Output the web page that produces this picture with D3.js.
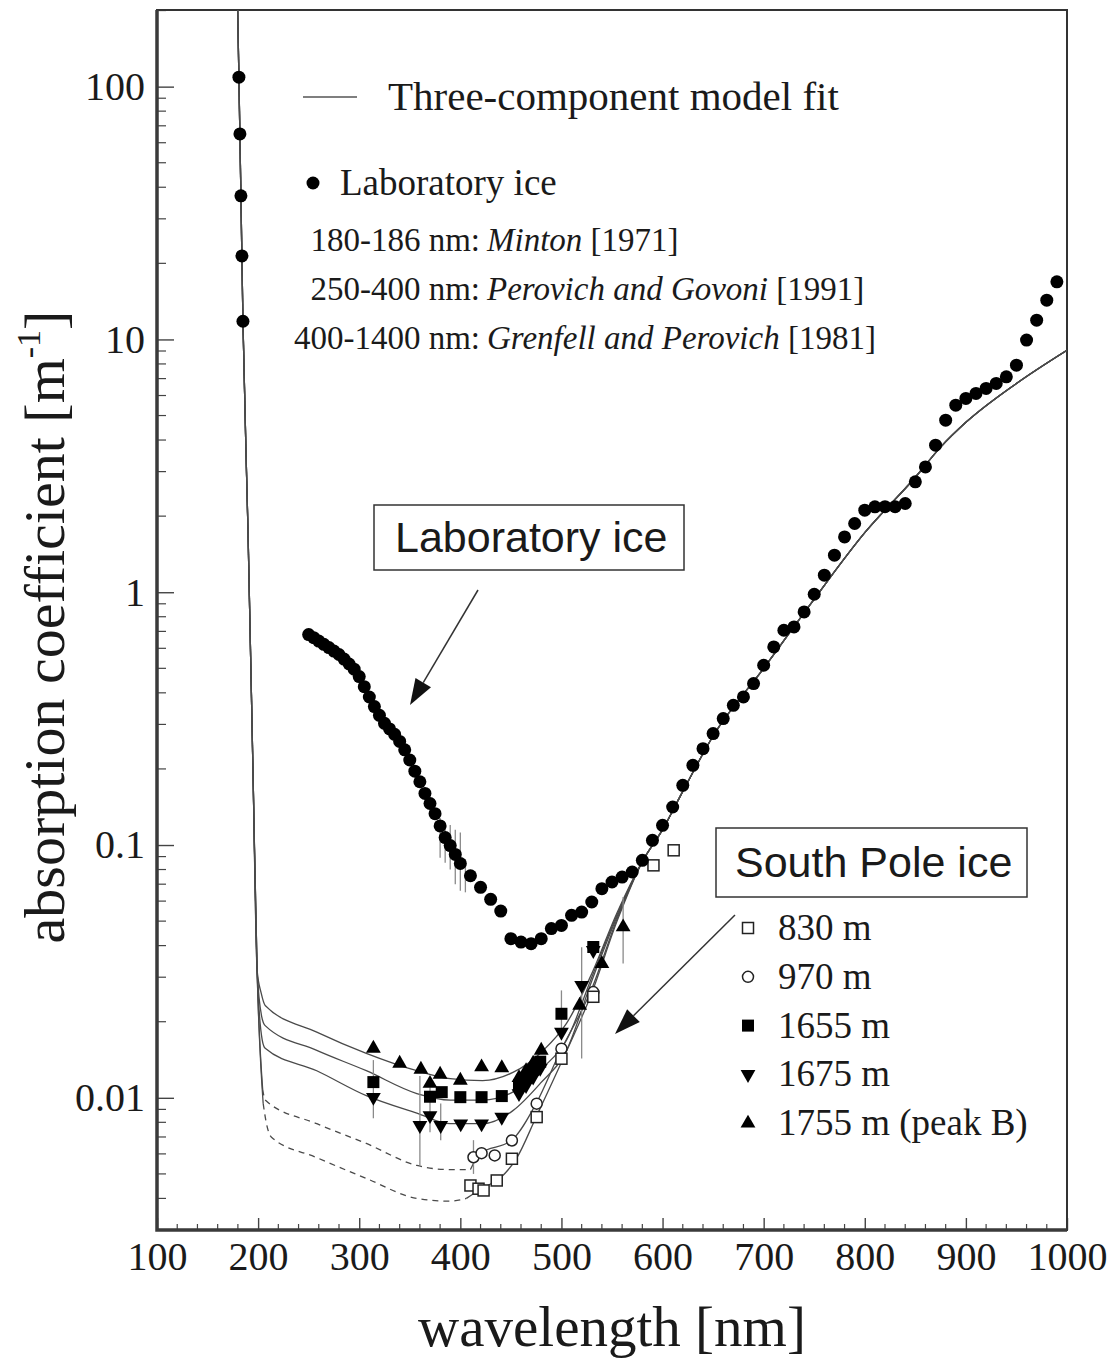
<!DOCTYPE html>
<html>
<head>
<meta charset="utf-8">
<script src="https://cdn.jsdelivr.net/npm/d3@7"></script>
<style>
  body { margin: 0; background: #fff; }
  svg text { font-family: "Liberation Serif", "Times New Roman", serif; fill: #1a1a1a; }
  svg text.sans { font-family: "Liberation Sans", Arial, sans-serif; }
</style>
</head>
<body>
<script>
// ---- data (wavelength nm, absorption m^-1) ----
const labIce = [
  [181, 109], [182, 65], [183, 37], [184, 21.4], [185, 11.8],
  [250, 0.680], [255, 0.661], [260, 0.641], [265, 0.622], [270, 0.604], [275, 0.585],
  [280, 0.567], [285, 0.544], [290, 0.520], [295, 0.496], [300, 0.464], [305, 0.423],
  [310, 0.385], [315, 0.353], [320, 0.326], [325, 0.303], [330, 0.288], [335, 0.274],
  [340, 0.257], [345, 0.238], [350, 0.217], [355, 0.196], [360, 0.178], [365, 0.160],
  [370, 0.146], [375, 0.133], [380, 0.119], [385, 0.107], [390, 0.0995], [395, 0.0918],
  [400, 0.0845], [410, 0.0756], [420, 0.068], [430, 0.061], [440, 0.0548], [450, 0.0426],
  [460, 0.0413], [470, 0.0407], [480, 0.0426], [490, 0.0467], [500, 0.0481], [510, 0.0527],
  [520, 0.0543], [530, 0.0595], [540, 0.0672], [550, 0.0714], [560, 0.0747], [570, 0.0782],
  [580, 0.087], [590, 0.1044], [600, 0.1197], [610, 0.1414], [620, 0.1722], [630, 0.2067],
  [640, 0.2406], [650, 0.2759], [660, 0.3164], [670, 0.3571], [680, 0.3852], [690, 0.4352],
  [700, 0.5142], [710, 0.6074], [720, 0.7073], [730, 0.7292], [740, 0.8357], [750, 0.982],
  [760, 1.168], [770, 1.401], [780, 1.655], [790, 1.87], [800, 2.111], [810, 2.176],
  [820, 2.18], [830, 2.18], [840, 2.244], [850, 2.733], [860, 3.132], [870, 3.817],
  [880, 4.793], [890, 5.495], [900, 5.842], [910, 6.114], [920, 6.4], [930, 6.698],
  [940, 7.112], [950, 7.912], [960, 9.94], [970, 11.92], [980, 14.3], [990, 16.9]
];
// [wavelength, low, high]
const labErr = [[380, 0.089, 0.128], [385, 0.085, 0.122], [390, 0.080, 0.120],
  [395, 0.070, 0.115], [400, 0.066, 0.112], [405, 0.065, 0.088]];

const sp830 = [[410, 0.0045], [418, 0.00437], [423, 0.0043], [436, 0.00471], [451, 0.00574],
  [475.5, 0.00839], [500, 0.01428], [531.5, 0.0251], [591, 0.0831], [611, 0.0953]];
const sp970 = [[413, 0.00582], [421, 0.00604], [434, 0.00592], [451, 0.00678], [475.5, 0.00948],
  [500, 0.01564], [531.5, 0.0262]];
const sp1655 = [[314, 0.01154], [370, 0.0101], [381.6, 0.01053], [400, 0.01006], [421, 0.01006],
  [441, 0.01016], [458, 0.0112], [465, 0.0120], [472, 0.0129], [479, 0.0139], [500, 0.0215],
  [531.5, 0.0395]];
const sp1675 = [[314, 0.01006], [360, 0.00778], [370, 0.00852], [380.6, 0.00778], [400.4, 0.0079],
  [421, 0.0079], [441, 0.00839], [458, 0.0104], [465, 0.0112], [472, 0.0121], [479, 0.0131],
  [500, 0.0182], [520, 0.0279], [531.5, 0.0383]];
const sp1755 = [[314, 0.01569], [340, 0.01368], [361, 0.01296], [370, 0.0114], [380, 0.01238],
  [400, 0.01172], [421, 0.01323], [441, 0.01313], [458, 0.0120], [465, 0.0128], [472, 0.0137],
  [480, 0.0154], [518, 0.0232], [540, 0.0339], [561, 0.0474]];
const spErr = [[314, 0.0083, 0.0141], [360, 0.0054, 0.0122], [370, 0.0073, 0.0110],
  [380.6, 0.0068, 0.0095], [413, 0.0050, 0.0068], [500, 0.0180, 0.0266],
  [520, 0.0143, 0.0394], [561, 0.034, 0.0623]];

// three-component model fit
const fitUV = [[179, 300], [181, 109], [183, 37], [185, 11.8], [190, 1.75], [195, 0.19], [199, 0.032]];
const fit1755 = [[203, 0.026], [207, 0.0232], [258, 0.0182], [307, 0.0150], [357, 0.0128], [390, 0.0119],
  [422, 0.0117], [452, 0.0126], [482, 0.0154], [505, 0.0197], [530, 0.031], [555, 0.054]];
const fit1655 = [[203.5, 0.021], [207, 0.0193], [258, 0.0154], [307, 0.0128], [357, 0.0104], [390, 0.0098],
  [422, 0.0098], [455, 0.0107], [482, 0.0132], [505, 0.0169], [530, 0.030], [555, 0.053]];
const fit1675 = [[204, 0.017], [207, 0.0157], [258, 0.0128], [307, 0.0102], [357, 0.0087], [390, 0.0079],
  [422, 0.0079], [452, 0.0089], [479, 0.0114], [505, 0.0154], [530, 0.029], [555, 0.052]];
const fit970Extrap = [[204.5, 0.0108], [207, 0.0098], [258, 0.0079], [307, 0.0066], [357, 0.0054],
  [390, 0.0052], [410, 0.0052]];
const fit970 = [[419, 0.0060], [451, 0.0068], [475, 0.0095], [498, 0.0150], [530, 0.027], [555, 0.051]];
const fit830Extrap = [[205, 0.0095], [208, 0.0080], [213, 0.0070], [258, 0.0058], [307, 0.0048],
  [357, 0.0040], [390, 0.0039], [406, 0.0040]];
const fit830 = [[422, 0.0044], [439, 0.0048], [456, 0.0058], [475, 0.0084], [501, 0.0141], [530, 0.026], [555, 0.050]];
const fitTail = [[580, 0.086], [600, 0.115], [620, 0.163], [650, 0.270], [700, 0.50], [750, 0.94],
  [800, 1.72], [850, 2.85], [875, 3.75], [900, 4.7], [950, 6.7], [1000, 9.07]];

const xTicks = [100, 200, 300, 400, 500, 600, 700, 800, 900, 1000];
const yTicks = [0.01, 0.1, 1, 10, 100];
const yTickLabels = ["0.01", "0.1", "1", "10", "100"];
const spLegend = [
  {label: "830 m", sym: "openSquare"},
  {label: "970 m", sym: "openCircle"},
  {label: "1655 m", sym: "square"},
  {label: "1675 m", sym: "down"},
  {label: "1755 m (peak B)", sym: "up"}
];

// ---- layout ----
const W = 1114, H = 1364;
const margin = {top: 10, right: 47, bottom: 134, left: 157};

const svg = d3.select("body").append("svg")
  .attr("width", W).attr("height", H);

const x = d3.scaleLinear().domain([100, 1000]).range([margin.left, W - margin.right]);
const y = d3.scaleLog().domain([0.003, 201]).range([H - margin.bottom, margin.top]);

svg.append("clipPath").attr("id", "plot")
  .append("rect")
  .attr("x", margin.left).attr("y", margin.top)
  .attr("width", W - margin.left - margin.right)
  .attr("height", H - margin.top - margin.bottom);

// minor ticks
const xMinor = d3.range(120, 1000, 20).filter(d => d % 100 !== 0);
svg.append("g").selectAll("line").data(xMinor).enter().append("line")
  .attr("x1", d => x(d)).attr("x2", d => x(d))
  .attr("y1", y.range()[0]).attr("y2", y.range()[0] - 6)
  .attr("stroke", "#444").attr("stroke-width", 1.2);

const yMinor = [];
[0.001, 0.01, 0.1, 1, 10, 100].forEach(p => d3.range(2, 10).forEach(k => {
  const v = p * k;
  if (v > 0.003 && v < 201) yMinor.push(v);
}));
svg.append("g").selectAll("line").data(yMinor).enter().append("line")
  .attr("x1", margin.left).attr("x2", margin.left + 9)
  .attr("y1", d => y(d)).attr("y2", d => y(d))
  .attr("stroke", "#444").attr("stroke-width", 1.2);

// axes with inward ticks
const xAxis = svg.append("g")
  .attr("transform", "translate(0," + y.range()[0] + ")")
  .call(d3.axisBottom(x).tickValues(xTicks).tickSizeInner(-12).tickSizeOuter(0).tickPadding(12)
    .tickFormat(d3.format("d")));
xAxis.selectAll("text").attr("font-size", 40).attr("fill", "#1a1a1a")
  .style("font-family", "'Liberation Serif', serif");

const yAxis = svg.append("g")
  .attr("transform", "translate(" + margin.left + ",0)")
  .call(d3.axisLeft(y).tickValues(yTicks).tickSizeInner(-17).tickSizeOuter(0).tickPadding(12)
    .tickFormat((d, i) => yTickLabels[i]));
yAxis.selectAll("text").attr("font-size", 40).attr("fill", "#1a1a1a")
  .style("font-family", "'Liberation Serif', serif");

[xAxis, yAxis].forEach(a => {
  a.select(".domain").remove();
  a.selectAll(".tick line").attr("stroke", "#444").attr("stroke-width", 1.4);
});

// frame
svg.append("rect")
  .attr("x", margin.left).attr("y", margin.top)
  .attr("width", W - margin.left - margin.right)
  .attr("height", H - margin.top - margin.bottom)
  .attr("fill", "none").attr("stroke", "#333").attr("stroke-width", 2);
svg.append("path")
  .attr("d", "M" + margin.left + "," + margin.top + "V" + y.range()[0] + "H" + x.range()[1])
  .attr("fill", "none").attr("stroke", "#3a3a3a").attr("stroke-width", 3.5);

// axis titles
svg.append("text")
  .attr("x", 612).attr("y", 1346)
  .attr("text-anchor", "middle").attr("font-size", 57)
  .text("wavelength [nm]");

const yt = svg.append("text")
  .attr("transform", "translate(64,627) rotate(-90)")
  .attr("text-anchor", "middle").attr("font-size", 58);
yt.append("tspan").text("absorption coefficient [m");
yt.append("tspan").attr("font-size", 34).attr("dy", -24).text("-1");
yt.append("tspan").attr("dy", 24).text("]");

// model fit lines
const line = d3.line().x(d => x(d[0])).y(d => y(d[1])).curve(d3.curveMonotoneX);
const fits = svg.append("g").attr("clip-path", "url(#plot)")
  .attr("fill", "none").attr("stroke", "#4a4a4a").attr("stroke-width", 1.3);

[fit1755, fit1655, fit1675].forEach(f => {
  fits.append("path").attr("d", line(fitUV.concat(f, fitTail)));
});
[[fit970Extrap, fit970], [fit830Extrap, fit830]].forEach(([ex, f]) => {
  fits.append("path").attr("d", line(fitUV.concat([ex[0]])));
  fits.append("path").attr("d", line(ex)).attr("stroke-dasharray", "6,5");
  fits.append("path").attr("d", line([ex[ex.length - 1]].concat(f, fitTail)));
});

// error bars
const errs = svg.append("g").attr("stroke", "#8a8a8a").attr("stroke-width", 1.3);
errs.selectAll(".le").data(labErr).enter().append("line")
  .attr("x1", d => x(d[0])).attr("x2", d => x(d[0]))
  .attr("y1", d => y(d[1])).attr("y2", d => y(d[2]));
errs.selectAll(".se").data(spErr).enter().append("line")
  .attr("x1", d => x(d[0])).attr("x2", d => x(d[0]))
  .attr("y1", d => y(d[1])).attr("y2", d => y(d[2]));

// marker helper
function drawSym(g, sym, cx, cy) {
  if (sym === "openSquare") {
    g.append("rect").attr("x", cx - 5.5).attr("y", cy - 5.5).attr("width", 11).attr("height", 11)
      .attr("fill", "#fff").attr("stroke", "#222").attr("stroke-width", 1.5);
  } else if (sym === "openCircle") {
    g.append("circle").attr("cx", cx).attr("cy", cy).attr("r", 5.5)
      .attr("fill", "#fff").attr("stroke", "#222").attr("stroke-width", 1.5);
  } else if (sym === "square") {
    g.append("rect").attr("x", cx - 6).attr("y", cy - 6).attr("width", 12).attr("height", 12)
      .attr("fill", "#000");
  } else {
    const t = d3.symbol().type(d3.symbolTriangle).size(95)();
    g.append("path").attr("d", t).attr("fill", "#000")
      .attr("transform", "translate(" + cx + "," + cy + ")" + (sym === "down" ? " rotate(180)" : ""));
  }
}

const marks = svg.append("g").attr("clip-path", "url(#plot)");
[[sp1755, "up"], [sp1655, "square"], [sp1675, "down"], [sp970, "openCircle"], [sp830, "openSquare"]]
  .forEach(([data, sym]) => data.forEach(d => drawSym(marks, sym, x(d[0]), y(d[1]))));

marks.selectAll(".lab").data(labIce).enter().append("circle")
  .attr("cx", d => x(d[0])).attr("cy", d => y(d[1])).attr("r", 6.5).attr("fill", "#000");

// legend top
svg.append("line").attr("x1", 303).attr("x2", 357).attr("y1", 97).attr("y2", 97)
  .attr("stroke", "#555").attr("stroke-width", 1.3);
svg.append("text").attr("x", 388).attr("y", 110).attr("font-size", 41)
  .text("Three-component model fit");
svg.append("circle").attr("cx", 313).attr("cy", 183).attr("r", 6.5).attr("fill", "#000");
svg.append("text").attr("x", 340).attr("y", 195).attr("font-size", 37).text("Laboratory ice");

const sources = [
  ["180-186 nm: ", "Minton", " [1971]"],
  ["250-400 nm: ", "Perovich and Govoni", " [1991]"],
  ["400-1400 nm: ", "Grenfell and Perovich", " [1981]"]
];
sources.forEach((s, i) => {
  const yy = 251 + i * 49;
  svg.append("text").attr("x", 480).attr("y", yy).attr("font-size", 33)
    .attr("text-anchor", "end").text(s[0].trim());
  const t2 = svg.append("text").attr("x", 487).attr("y", yy).attr("font-size", 33);
  t2.append("tspan").attr("font-style", "italic").text(s[1]);
  t2.append("tspan").text(s[2]);
});

// boxed labels with arrows
function boxLabel(txt, bx, by, bw, bh, tx, ty) {
  svg.append("rect").attr("x", bx).attr("y", by).attr("width", bw).attr("height", bh)
    .attr("fill", "#fff").attr("stroke", "#333").attr("stroke-width", 1.5);
  svg.append("text").attr("class", "sans").attr("x", tx).attr("y", ty)
    .attr("font-size", 43).text(txt);
}
boxLabel("Laboratory ice", 374, 505, 310, 65, 395, 552);
boxLabel("South Pole ice", 716, 828, 311, 69, 735, 877);

function arrow(x1, y1, x2, y2) {
  const a = Math.atan2(y2 - y1, x2 - x1), L = 26, hw = 9;
  const bx = x2 - L * Math.cos(a), by = y2 - L * Math.sin(a);
  svg.append("line").attr("x1", x1).attr("y1", y1).attr("x2", bx).attr("y2", by)
    .attr("stroke", "#333").attr("stroke-width", 1.5);
  svg.append("path")
    .attr("d", "M" + x2 + "," + y2 +
      "L" + (bx + hw * Math.sin(a)) + "," + (by - hw * Math.cos(a)) +
      "L" + (bx - hw * Math.sin(a)) + "," + (by + hw * Math.cos(a)) + "Z")
    .attr("fill", "#111");
}
arrow(478, 590, 410, 705);
arrow(735, 915, 615, 1034);

// South Pole legend
const spl = svg.append("g");
spLegend.forEach((d, i) => {
  const cy = 928 + i * 48.8;
  drawSym(spl, d.sym, 748, cy);
  spl.append("text").attr("x", 778).attr("y", cy + 12).attr("font-size", 37).text(d.label);
});
</script>
</body>
</html>
